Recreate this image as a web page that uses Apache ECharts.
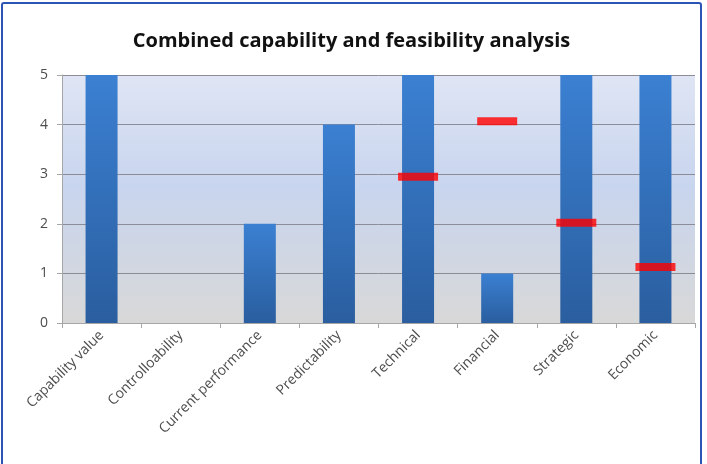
<!DOCTYPE html>
<html>
<head>
<meta charset="utf-8">
<script src="https://cdn.jsdelivr.net/npm/echarts@6/dist/echarts.min.js"></script>
<style>
  html, body { margin: 0; padding: 0; background: #fff; }
  #chart { position: absolute; left: 1px; top: 2px; width: 701px; height: 470px; border: 2px solid #2b54b5; border-radius: 3px; box-sizing: border-box; }
</style>
</head>
<body>
<div id="chart"></div>
<script>
const categories = ['Capability value', 'Controlloability', 'Current performance', 'Predictability', 'Technical', 'Financial', 'Strategic', 'Economic']
const capability = [5, 0, 2, 4, 5, 1, 5, 5]
const feasibility = [null, null, null, null, 2.95, 4.07, 2.02, 1.13]
const yTicks = [0, 1, 2, 3, 4, 5]

var myChart = echarts.init(document.getElementById('chart'))

const option = {
  animation: false,
  title: {
    text: 'Combined capability and feasibility analysis',
    left: 'center',
    top: 22,
    textStyle: { fontFamily: 'Open Sans', fontSize: 20, fontWeight: 'bold', color: '#111' }
  },
  grid: {
    left: 59,
    right: 5,
    top: 71,
    bottom: 147,
    show: true,
    borderWidth: 0,
    backgroundColor: new echarts.graphic.LinearGradient(0, 0, 0, 1, [
      { offset: 0, color: '#dfe5f4' },
      { offset: 0.45, color: '#c8d5ee' },
      { offset: 1, color: '#d8d8d8' }
    ])
  },
  xAxis: {
    type: 'category',
    data: categories,
    axisLine: { lineStyle: { color: '#a6a6a6' } },
    axisTick: { show: true, length: 5, lineStyle: { color: '#a6a6a6' } },
    axisLabel: { rotate: 45, fontFamily: 'Open Sans', fontSize: 14, color: '#4d4d4d', margin: 10 }
  },
  yAxis: {
    type: 'value',
    min: 0,
    max: yTicks[yTicks.length - 1],
    interval: 1,
    axisLine: { show: true, lineStyle: { color: '#a6a6a6' } },
    axisTick: { show: true, length: 5, lineStyle: { color: '#a6a6a6' } },
    splitLine: { lineStyle: { color: '#8c8c99', width: 1 } },
    axisLabel: { fontFamily: 'Open Sans', fontSize: 14, color: '#4d4d4d', margin: 14 }
  },
  series: [
    {
      name: 'Capability',
      type: 'bar',
      barWidth: 32,
      silent: true,
      itemStyle: {
        color: new echarts.graphic.LinearGradient(0, 0, 0, 1, [
          { offset: 0, color: '#3b80d2' },
          { offset: 1, color: '#2a5e9f' }
        ])
      },
      data: capability
    },
    {
      name: 'Feasibility',
      type: 'scatter',
      symbol: 'rect',
      symbolSize: [40, 8],
      silent: true,
      itemStyle: { color: '#ff0000' },
      z: 5,
      data: feasibility
    }
  ]
}

myChart.setOption(option)
</script>
</body>
</html>
